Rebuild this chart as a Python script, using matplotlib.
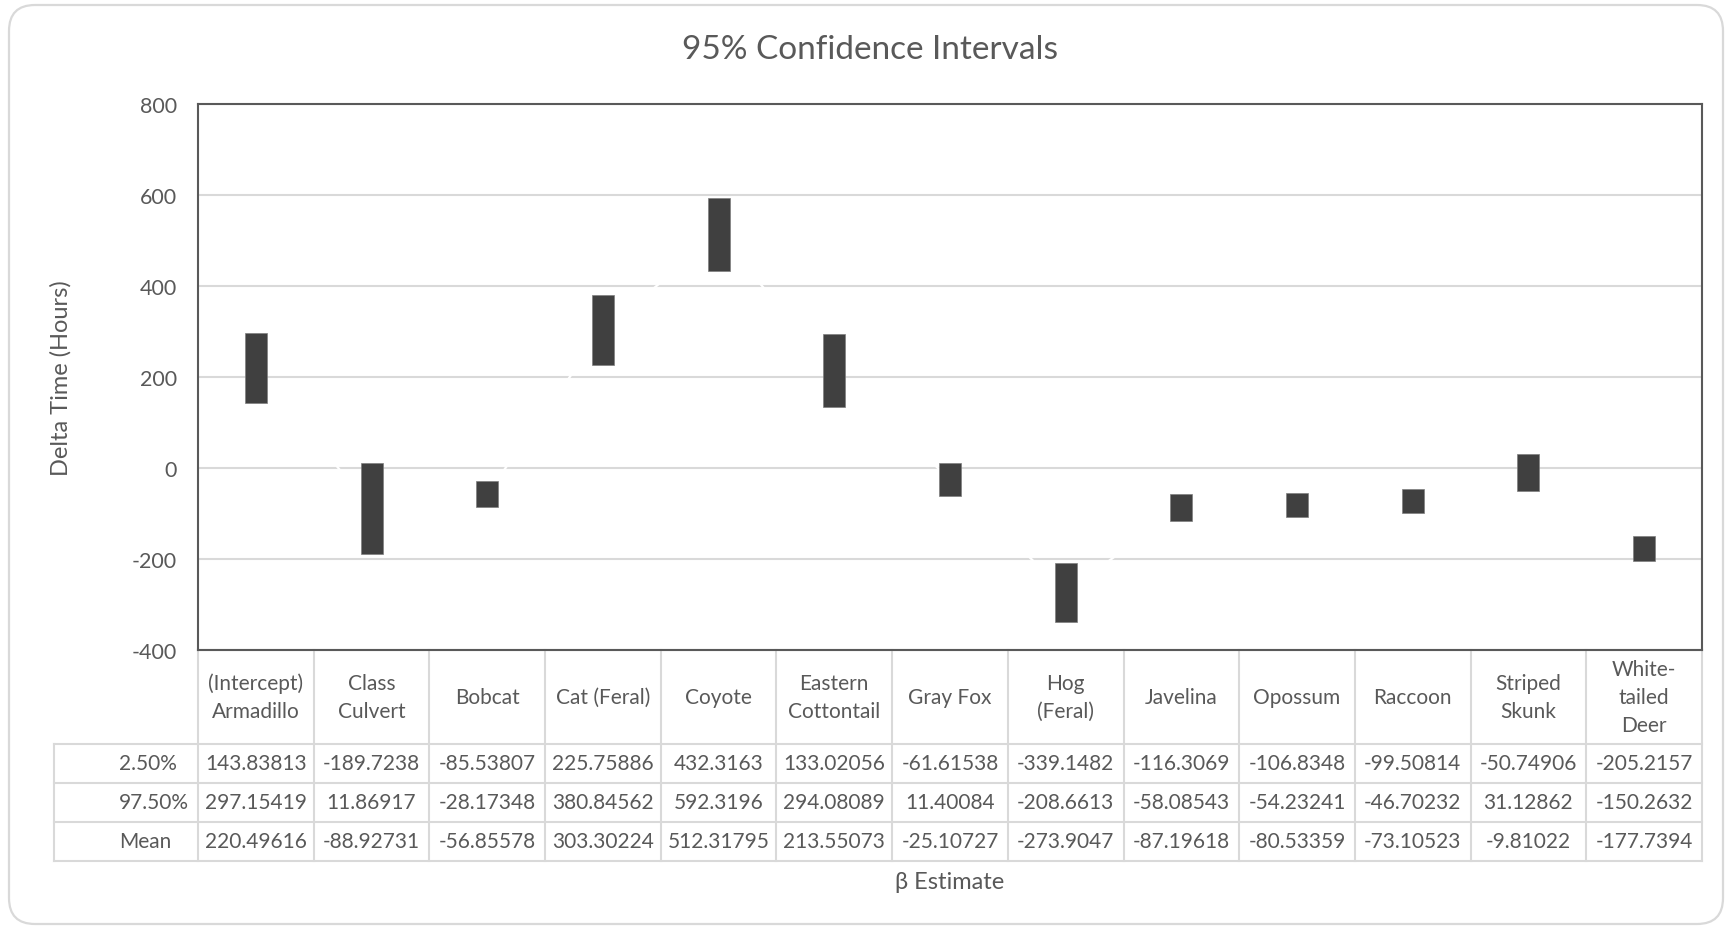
import matplotlib
matplotlib.use("Agg")
import matplotlib.pyplot as plt
from matplotlib.patches import FancyBboxPatch
from matplotlib.lines import Line2D

plt.rcParams['font.family'] = ['Lato', 'DejaVu Sans']

categories = ["(Intercept)\nArmadillo", "Class\nCulvert", "Bobcat", "Cat (Feral)", "Coyote",
              "Eastern\nCottontail", "Gray Fox", "Hog\n(Feral)", "Javelina", "Opossum",
              "Raccoon", "Striped\nSkunk", "White-\ntailed\nDeer"]
low = [143.83813, -189.7238, -85.53807, 225.75886, 432.3163, 133.02056, -61.61538,
       -339.1482, -116.3069, -106.8348, -99.50814, -50.74906, -205.2157]
high = [297.15419, 11.86917, -28.17348, 380.84562, 592.3196, 294.08089, 11.40084,
        -208.6613, -58.08543, -54.23241, -46.70232, 31.12862, -150.2632]
mean = [220.49616, -88.92731, -56.85578, 303.30224, 512.31795, 213.55073, -25.10727,
        -273.9047, -87.19618, -80.53359, -73.10523, -9.81022, -177.7394]
low_txt = ["143.83813", "-189.7238", "-85.53807", "225.75886", "432.3163", "133.02056", "-61.61538",
           "-339.1482", "-116.3069", "-106.8348", "-99.50814", "-50.74906", "-205.2157"]
high_txt = ["297.15419", "11.86917", "-28.17348", "380.84562", "592.3196", "294.08089", "11.40084",
            "-208.6613", "-58.08543", "-54.23241", "-46.70232", "31.12862", "-150.2632"]
mean_txt = ["220.49616", "-88.92731", "-56.85578", "303.30224", "512.31795", "213.55073", "-25.10727",
            "-273.9047", "-87.19618", "-80.53359", "-73.10523", "-9.81022", "-177.7394"]
row_labels = ["2.50%", "97.50%", "Mean"]
yticks = [-400, -200, 0, 200, 400, 600, 800]

W, H = 1726, 928
fig = plt.figure(figsize=(W / 100, H / 100), dpi=100)
TXT = "#595959"
GRID = "#d9d9d9"

# background pixel axes for border and table
bg = fig.add_axes([0, 0, 1, 1])
bg.set_xlim(0, W)
bg.set_ylim(H, 0)
bg.axis("off")
bg.add_patch(FancyBboxPatch((9, 6), 1714, 919, boxstyle="round,pad=0,rounding_size=26",
                            fill=False, edgecolor="#d9d9d9", linewidth=1.6))

L, R, T, B = 198, 1702, 105, 651
ax = fig.add_axes([L / W, 1 - B / H, (R - L) / W, (B - T) / H])
ax.patch.set_alpha(0)
n = len(categories)
xs = list(range(n))
ax.set_xlim(-0.5, n - 0.5)
ax.set_ylim(-400, 800)
ax.set_yticks(yticks)
ax.set_yticklabels([str(v) for v in yticks])
ax.set_xticks([])
ax.tick_params(axis='y', length=0, pad=15, labelsize=15.5, labelcolor=TXT)
ax.grid(axis='y', color=GRID, linewidth=1.5, zorder=0)
ax.set_axisbelow(True)
for s in ax.spines.values():
    s.set_color("#595959")
    s.set_linewidth(1.5)

ax.plot(xs, mean, color="white", linewidth=1.6, zorder=2)
heights = [h - l for h, l in zip(high, low)]
ax.bar(xs, heights, bottom=low, width=0.19, color="#404040", edgecolor="#7f7f7f",
       linewidth=0.5, zorder=3)

bg.text(61, 378, "Delta Time (Hours)", fontsize=17, color=TXT, rotation=90,
        ha="center", va="center")
bg.text(870, 50, "95% Confidence Intervals", fontsize=24, color=TXT,
        ha="center", va="center")

# data table
row_y = [651, 745, 784, 823, 862]
colw = (R - L) / n
lab_left = 54
lk = dict(color=GRID, linewidth=1.5)
bg.plot([L, R], [651, 651], **lk)
for y in row_y[1:]:
    bg.plot([lab_left, R], [y, y], **lk)
for i in range(n + 1):
    x = L + i * colw
    bg.plot([x, x], [651, 862], **lk)
bg.plot([lab_left, lab_left], [745, 862], **lk)

for i, c in enumerate(categories):
    cx = L + (i + 0.5) * colw
    bg.text(cx, (651 + 745) / 2, c, ha="center", va="center", fontsize=15,
            color=TXT, linespacing=1.5)
    for r, vals in enumerate([low_txt, high_txt, mean_txt]):
        cy = (row_y[r + 1] + row_y[r + 2]) / 2
        bg.text(cx, cy, vals[i], ha="center", va="center", fontsize=15, color=TXT)
for r, lab in enumerate(row_labels):
    cy = (row_y[r + 1] + row_y[r + 2]) / 2
    bg.text(119, cy, lab, ha="left", va="center", fontsize=15, color=TXT)

bg.text((L + R) / 2, 883, "β Estimate", ha="center", va="center", fontsize=17, color=TXT)

fig.savefig("out.png", dpi=100)
